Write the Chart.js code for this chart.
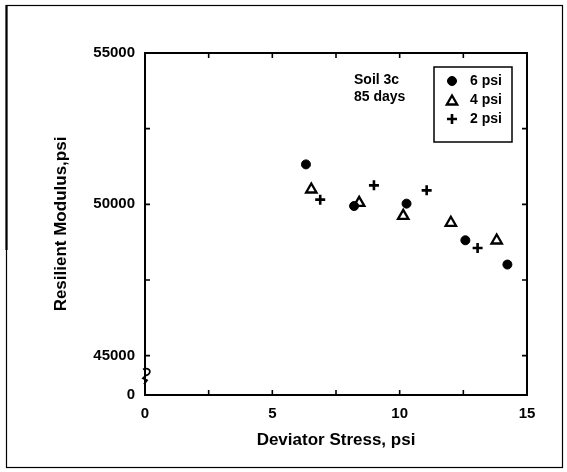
<!DOCTYPE html>
<html><head><meta charset="utf-8">
<script src="https://cdn.jsdelivr.net/npm/chart.js@4/dist/chart.umd.min.js"></script>
<style>html,body{margin:0;padding:0;background:#fff;}#wrap{width:567px;height:472px;position:relative;background:#fff}</style>
</head><body><div id="wrap"><canvas id="c" width="567" height="472"></canvas></div>
<script>
// ---- data ----
const seriesLabels = ['6 psi', '4 psi', '2 psi'];
const stress6 = [6.32, 8.21, 10.27, 12.58, 14.23];
const modulus6 = [51320, 49944, 50023, 48812, 48010];
const stress4 = [6.53, 8.41, 10.14, 12.01, 13.81];
const modulus4 = [50490, 50050, 49620, 49390, 48805];
const stress2 = [6.88, 8.99, 11.06, 13.06];
const modulus2 = [50155, 50627, 50462, 48558];
const xTickValues = [0, 2.5, 5, 7.5, 10, 12.5, 15];
const xTickLabels = ['0', '', '5', '', '10', '', '15'];
const yTickValues = [43700, 45000, 47500, 50000, 52500, 55000];
const yTickLabels = ['0', '45000', '', '50000', '', '55000'];
const annotationLines = ['Soil 3c', '85 days'];
const xTitle = 'Deviator Stress, psi';
const yTitle = 'Resilient Modulus,psi';

const FONT = '"Liberation Sans", Arial, Helvetica, sans-serif';

function pts(xs, ys) { return xs.map((x, i) => ({x: x, y: ys[i]})); }

const styles = [
  {pointStyle: 'circle', pointRadius: 4.5, borderWidth: 1, backgroundColor: '#000', borderColor: '#000'},
  {pointStyle: 'triangle', pointRadius: 6, borderWidth: 2.3, backgroundColor: '#fff', borderColor: '#000'},
  {pointStyle: 'cross', pointRadius: 5, borderWidth: 2.6, backgroundColor: '#000', borderColor: '#000'}
];
const dataSets = [pts(stress6, modulus6), pts(stress4, modulus4), pts(stress2, modulus2)];

const decor = {
  id: 'decor',
  afterDraw(chart) {
    const ctx = chart.ctx;
    const a = chart.chartArea;
    const xs = chart.scales.x, ys = chart.scales.y;
    ctx.save();
    // outer frame
    ctx.strokeStyle = '#000';
    ctx.lineWidth = 1.2;
    ctx.strokeRect(6.5, 5.5, 556, 462);
    ctx.lineWidth = 2.2;
    ctx.beginPath(); ctx.moveTo(6.5, 5); ctx.lineTo(6.5, 250); ctx.stroke();
    // top & right axis lines
    ctx.lineWidth = 2;
    ctx.beginPath();
    ctx.moveTo(a.left, a.top); ctx.lineTo(a.right, a.top); ctx.lineTo(a.right, a.bottom);
    ctx.stroke();
    // inward ticks
    ctx.lineWidth = 1.6;
    const tl = 5;
    ys.ticks.forEach(t => {
      if (t.value <= ys.min || t.value >= ys.max) return;
      const p = ys.getPixelForValue(t.value);
      ctx.beginPath();
      ctx.moveTo(a.left, p); ctx.lineTo(a.left + tl, p);
      ctx.moveTo(a.right, p); ctx.lineTo(a.right - tl, p);
      ctx.stroke();
    });
    xs.ticks.forEach(t => {
      if (t.value <= xs.min || t.value >= xs.max) return;
      const p = xs.getPixelForValue(t.value);
      ctx.beginPath();
      ctx.moveTo(p, a.bottom); ctx.lineTo(p, a.bottom - tl);
      ctx.moveTo(p, a.top); ctx.lineTo(p, a.top + tl);
      ctx.stroke();
    });
    // axis break squiggle
    const bx = a.left, by = ys.getPixelForValue(44350);
    ctx.lineWidth = 1.8;
    ctx.beginPath();
    ctx.moveTo(bx - 2, by - 6);
    ctx.bezierCurveTo(bx + 6, by - 9, bx + 7, by - 1, bx + 1, by);
    ctx.lineTo(bx - 2, by + 3);
    ctx.lineTo(bx + 2, by + 5);
    ctx.lineTo(bx - 1, by + 9);
    ctx.stroke();
    // annotation
    ctx.fillStyle = '#000';
    ctx.font = 'bold 14px ' + FONT;
    ctx.textAlign = 'left';
    ctx.textBaseline = 'middle';
    annotationLines.forEach((s, i) => ctx.fillText(s, 354, 80 + i * 17));
    // legend
    const lx = 434, ly = 67, lw = 78, lh = 75;
    ctx.lineWidth = 1.5;
    ctx.strokeRect(lx, ly, lw, lh);
    chart.data.datasets.forEach((ds, i) => {
      const yy = 81 + i * 19;
      ctx.strokeStyle = ds.borderColor;
      ctx.fillStyle = ds.backgroundColor;
      ctx.lineWidth = ds.borderWidth;
      Chart.helpers.drawPoint(ctx, {pointStyle: ds.pointStyle, radius: ds.pointRadius, borderWidth: ds.borderWidth, rotation: 0},
        452, yy + (ds.pointStyle === 'triangle' ? 1.5 : 0));
      ctx.fillStyle = '#000';
      ctx.fillText(ds.label, 470, yy);
    });
    ctx.restore();
  }
};

new Chart(document.getElementById('c'), {
  type: 'scatter',
  data: {
    datasets: seriesLabels.map((lab, i) => Object.assign({label: lab, data: dataSets[i], pointHoverRadius: styles[i].pointRadius}, styles[i]))
  },
  options: {
    responsive: false,
    animation: false,
    devicePixelRatio: 1,
    layout: {padding: {left: 0, right: 40, top: 53, bottom: 0}},
    plugins: {legend: {display: false}, tooltip: {enabled: false}},
    scales: {
      x: {
        type: 'linear', min: 0, max: 15,
        afterBuildTicks: s => { s.ticks = xTickValues.map(v => ({value: v})); },
        afterFit: s => { s.height = 77; },
        ticks: {
          color: '#000', padding: 10, maxRotation: 0, autoSkip: false,
          font: {family: FONT, size: 15, weight: 'bold'},
          callback: v => { const k = xTickValues.indexOf(v); return k >= 0 ? xTickLabels[k] : ''; }
        },
        grid: {display: true, drawOnChartArea: false, drawTicks: false},
        border: {display: true, color: '#000', width: 2},
        title: {display: true, text: xTitle, color: '#000', padding: {top: 0, bottom: 21},
          font: {family: FONT, size: 17, weight: 'bold'}}
      },
      y: {
        type: 'linear', min: 43700, max: 55000,
        afterBuildTicks: s => { s.ticks = yTickValues.map(v => ({value: v})); },
        afterFit: s => { s.width = 145; },
        ticks: {
          color: '#000', padding: 10, autoSkip: false,
          font: {family: FONT, size: 15, weight: 'bold'},
          callback: v => { const k = yTickValues.indexOf(v); return k >= 0 ? yTickLabels[k] : ''; }
        },
        grid: {display: true, drawOnChartArea: false, drawTicks: false},
        border: {display: true, color: '#000', width: 2},
        title: {display: true, text: yTitle, color: '#000', padding: {top: 51, bottom: 0},
          font: {family: FONT, size: 17, weight: 'bold'}}
      }
    }
  },
  plugins: [decor]
});
</script>
</body></html>
